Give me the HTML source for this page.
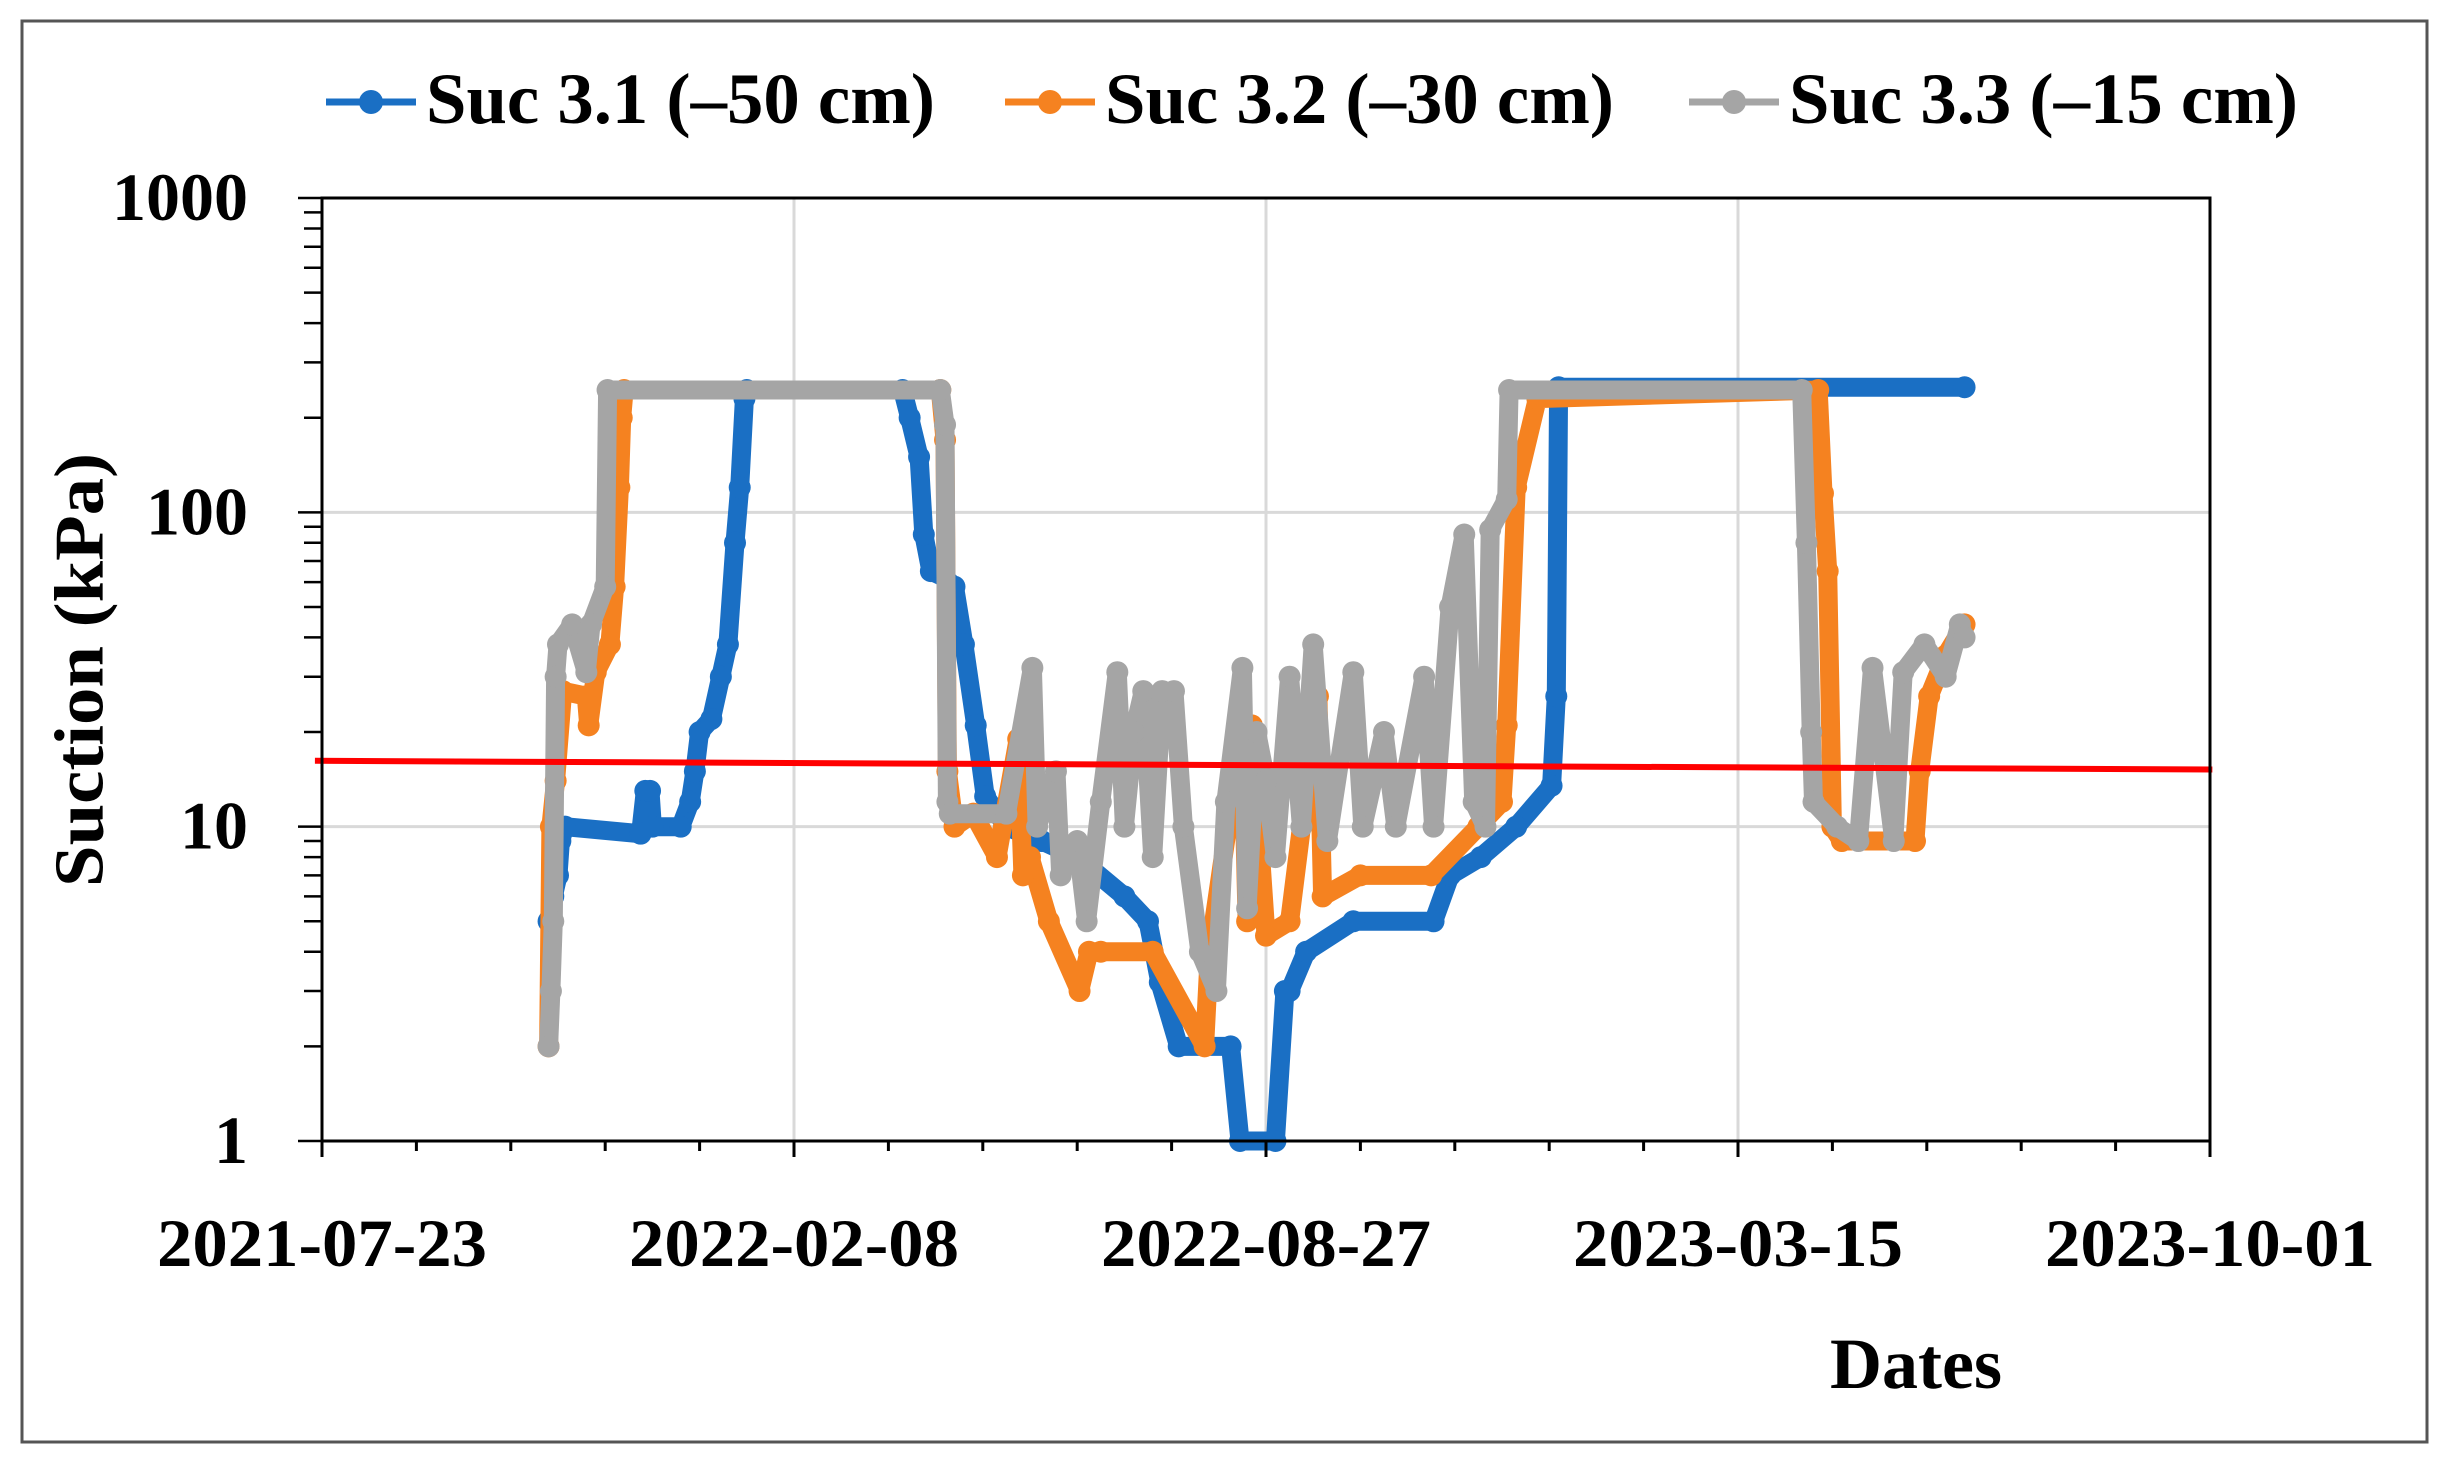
<!DOCTYPE html>
<html><head><meta charset="utf-8"><style>
html,body{margin:0;padding:0;background:#fff;}
svg{display:block;}
text{font-family:"Liberation Serif",serif;font-weight:bold;fill:#000;}
</style></head><body>
<svg id="chart" width="2447" height="1463" viewBox="0 0 2447 1463" xmlns="http://www.w3.org/2000/svg">
<rect x="22" y="21" width="2405" height="1421" fill="#fff" stroke="#555" stroke-width="3"/>
<g id="grid"></g>
<g id="series"></g>
<g id="axes"></g>
<g id="legend"></g>
<text x="80" y="670" font-size="70" text-anchor="middle" dominant-baseline="central" transform="rotate(-90 80 670)" textLength="434" lengthAdjust="spacingAndGlyphs">Suction (kPa)</text>
<text x="1916" y="1388" font-size="72" text-anchor="middle">Dates</text>
</svg>
<script>
const xTickDays = [0, 200, 400, 600, 800];
const xTickLabels = ["2021-07-23", "2022-02-08", "2022-08-27", "2023-03-15", "2023-10-01"];
const yTickValues = [1, 10, 100, 1000];
const yTickLabels = ["1", "10", "100", "1000"];
const seriesNames = ["Suc 3.1 (\u201350 cm)", "Suc 3.2 (\u201330 cm)", "Suc 3.3 (\u201315 cm)"];
const blueDays = [96,98,100,101,103,135,137,139,140,152,156,158,160,165,169,172,175,177,179,180,246,249,253,255,258,264,268,272,277,281,290,305,320,340,350,355,363,385,389,404,408,410,417,437,471,478,491,506,521,523,524,696];
const blueVals = [5,6,7,9,10,9.5,13,13,10,10,12,15,20,22,30,38,80,120,230,245,245,200,150,85,65,62,58,38,21,12.5,10,9,8,6,5,3.2,2,2,1,1,3,3,4,5,5,7,8,10,13.5,26,250,250];
const orangeDays = [96,97,99,102,112,113,116,122,124,126,127,128,262,264,265,268,276,286,295,297,300,308,321,325,330,352,374,376,390,392,394,400,410,422,424,440,470,490,500,502,506,515,634,636,638,640,644,675,677,681,688,696];
const orangeVals = [2,10,14,27,26,21,31,38,58,120,200,245,245,170,15,10,11,8,19,7,8,5,3,4,4,4,2,4,21,5,21,4.5,5,26,6,7,7,10,12,21,120,230,245,115,65,10,9,9,15,26,35,44];
const grayDays = [96,97,98,99,100,106,112,114,120,121,262,264,265,266,290,301,303,311,313,320,324,330,337,340,344,348,352,356,361,365,372,379,383,390,392,396,400,404,410,415,420,426,437,441,450,455,467,471,478,484,488,493,495,502,503,627,629,631,632,642,651,657,666,670,679,688,694,696];
const grayVals = [2,3,5,30,38,44,31,44,58,245,245,190,12,11,11,32,10,15,7,9,5,12,31,10,20,27,8,27,27,10,4,3,12,32,5.5,20,14,8,30,10,38,9,31,10,20,10,30,10,50,85,12,10,88,110,245,245,80,20,12,10,9,32,9,31,38,30,44,40];
const thresholdDays = [-3, 801];
const thresholdVals = [16.2, 15.2];

const NS = "http://www.w3.org/2000/svg";
const X0 = 322, X1 = 2210, Y0 = 1141, Y1 = 198, DMAX = 800;
function xs(d){ return X0 + d / DMAX * (X1 - X0); }
function ys(v){ return Y0 - Math.log10(v) / 3 * (Y0 - Y1); }
function mk(tag, attrs, parent){ const e = document.createElementNS(NS, tag); for (const k in attrs) e.setAttribute(k, attrs[k]); parent.appendChild(e); return e; }

const grid = document.getElementById('grid');
const axes = document.getElementById('axes');
const ser = document.getElementById('series');
const leg = document.getElementById('legend');

xTickDays.forEach((d, i) => {
  if (i === 0 || i === xTickDays.length - 1) return;
  const l = mk('line', {x1: xs(d), x2: xs(d), y1: Y1, y2: Y0, stroke: '#d9d9d9', 'stroke-width': 3}, grid);
  
  
});
yTickValues.forEach((v, i) => {
  if (i === 0 || i === yTickValues.length - 1) return;
  const l = mk('line', {x1: X0, x2: X1, y1: ys(v), y2: ys(v), stroke: '#d9d9d9', 'stroke-width': 3}, grid);
  
  
});

function drawSeries(days, vals, color, name){
  const g = mk('g', {}, ser);
  
  
  const pts = days.map((d, i) => xs(d).toFixed(1) + ',' + ys(vals[i]).toFixed(1)).join(' ');
  const p = mk('polyline', {points: pts, fill: 'none', stroke: color, 'stroke-width': 19, 'stroke-linejoin': 'round', 'stroke-linecap': 'round'}, g);
  
  
  days.forEach((d, i) => {
    const c = mk('circle', {cx: xs(d), cy: ys(vals[i]), r: 11, fill: color}, g);
    
    
  });
}
drawSeries(blueDays, blueVals, '#1a6fc4', 'series-suc-3-1');
drawSeries(orangeDays, orangeVals, '#f58220', 'series-suc-3-2');
drawSeries(grayDays, grayVals, '#a5a5a5', 'series-suc-3-3');

const red = mk('line', {x1: xs(thresholdDays[0]), x2: xs(thresholdDays[1]), y1: ys(thresholdVals[0]), y2: ys(thresholdVals[1]), stroke: '#ff0000', 'stroke-width': 6}, ser);



const frame = mk('rect', {x: X0, y: Y1, width: X1 - X0, height: Y0 - Y1, fill: 'none', stroke: '#000', 'stroke-width': 3}, axes);



for (let dec = 0; dec < 3; dec++) {
  for (let m = 1; m <= 9; m++) {
    const v = Math.pow(10, dec) * m;
    const len = m === 1 ? 24 : 18;
    const t = mk('line', {x1: X0 - len, x2: X0, y1: ys(v), y2: ys(v), stroke: '#000', 'stroke-width': 2.5}, axes);
    
    
  }
}
const tt = mk('line', {x1: X0 - 24, x2: X0, y1: ys(1000), y2: ys(1000), stroke: '#000', 'stroke-width': 2.5}, axes);


yTickValues.forEach((v, i) => {
  const t = mk('text', {x: 248, y: ys(v) + 22, 'font-size': 68, 'text-anchor': 'end'}, axes);
  t.textContent = yTickLabels[i];
  
  
});

for (let d = 0; d <= DMAX; d += 40) {
  const major = d % 200 === 0;
  const t = mk('line', {x1: xs(d), x2: xs(d), y1: Y0, y2: Y0 + (major ? 16 : 10), stroke: '#000', 'stroke-width': 3}, axes);
  
  
}
xTickDays.forEach((d, i) => {
  const t = mk('text', {x: xs(d), y: 1266, 'font-size': 68, 'text-anchor': 'middle', textLength: 330, lengthAdjust: 'spacingAndGlyphs'}, axes);
  t.textContent = xTickLabels[i];
  
  
});

const legColors = ['#1a6fc4', '#f58220', '#a5a5a5'];
const legX = [326, 1005, 1689];
seriesNames.forEach((n, i) => {
  const g = mk('g', {}, leg);
  
  
  const l = mk('line', {x1: legX[i], x2: legX[i] + 90, y1: 102, y2: 102, stroke: legColors[i], 'stroke-width': 7}, g);
  
  
  const c = mk('circle', {cx: legX[i] + 45, cy: 102, r: 12, fill: legColors[i]}, g);
  
  
  const t = mk('text', {x: legX[i] + 100, y: 123, 'font-size': 72, textLength: 509, lengthAdjust: 'spacingAndGlyphs'}, g);
  t.textContent = n;
  
  
});
</script>
</body></html>
